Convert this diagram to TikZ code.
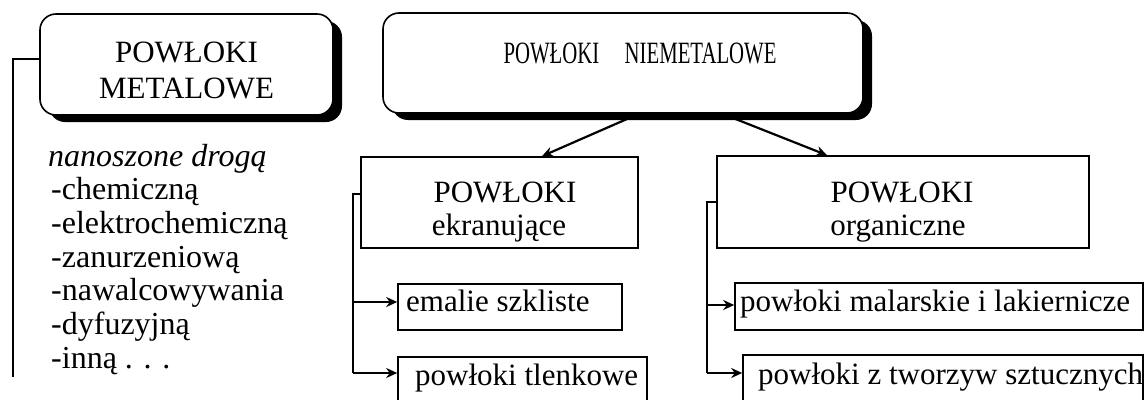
\documentclass[tikz,border=0pt]{standalone}
\usepackage{fontspec}
\setmainfont{Liberation Serif}
\usetikzlibrary{arrows.meta,shadows,calc}
\begin{document}
\begin{tikzpicture}[x=1pt,y=-1pt,
  txt/.style={font=\fontsize{31}{36}\selectfont, inner sep=0pt},
  ltxt/.style={font=\fontsize{32}{36}\selectfont, inner sep=0pt},
  rbox/.style={draw=black, line width=1.6pt, fill=white, rounded corners=16pt, inner sep=0pt,
    drop shadow={shadow xshift=9pt,shadow yshift=-7pt,fill=black,opacity=1}},
  sbox/.style={draw=black, line width=1.6pt, fill=white, inner sep=0pt},
  conn/.style={line width=2.2pt},
  arr/.style={line width=2.2pt,-{Stealth[length=11pt,width=10pt]}},
]
\useasboundingbox (0,0) rectangle (1146,399);
\clip (0,0) rectangle (1146,399);
\fill[white] (0,0) rectangle (1146,399);

% main boxes
\node[rbox, minimum width=293pt, minimum height=101pt] (met) at (186.5,64.5) {};
\node[txt, anchor=base] (metA) at (186.5,62) {POWŁOKI};
\node[txt, anchor=base] (metB) at (186.5,98) {METALOWE};

\node[rbox, minimum width=480pt, minimum height=100pt] (nm) at (623,63) {};
\node[txt, anchor=base] (nmT) at (640,63) {\scalebox{0.67}[1]{POWŁOKI\hspace{38pt}NIEMETALOWE}};

% second level
\node[sbox, minimum width=277pt, minimum height=91pt] (ek) at (499.5,202.5) {};
\node[txt, anchor=base] (ekA) at (505,202.5) {POWŁOKI};
\node[txt, anchor=base] (ekB) at (499,235) {ekranujące};

\node[sbox, minimum width=372pt, minimum height=92pt] (org) at (903,202) {};
\node[txt, anchor=base] (orgA) at (902,202.5) {POWŁOKI};
\node[txt, anchor=base] (orgB) at (898,235) {organiczne};

% leaf boxes
\node[sbox, minimum width=224pt, minimum height=46pt] (em) at (510,307) {};
\node[txt, anchor=base west] (emT) at (406,311) {emalie szkliste};
\node[sbox, minimum width=249pt, minimum height=60pt] (tl) at (522.5,387) {};
\node[txt, anchor=base west] (tlT) at (415,385) {powłoki tlenkowe};
\node[sbox, minimum width=408pt, minimum height=47pt] (ma) at (939,306.5) {};
\node[txt, anchor=base west] (maT) at (740,311) {powłoki malarskie i lakiernicze};
\node[sbox, minimum width=400pt, minimum height=60pt] (tw) at (943,385) {};
\node[txt, anchor=base west] (twT) at (758,384) {powłoki z tworzyw sztucznych};

% list
\node[ltxt, anchor=base west] (l0) at (48,166) {\itshape nanoszone drogą};
\node[ltxt, anchor=base west] (l1) at (51,199.7) {-chemiczną};
\node[ltxt, anchor=base west] (l2) at (51,233.4) {-elektrochemiczną};
\node[ltxt, anchor=base west] (l3) at (51,267.1) {-zanurzeniową};
\node[ltxt, anchor=base west] (l4) at (51,300.8) {-nawalcowywania};
\node[ltxt, anchor=base west] (l5) at (51,334.5) {-dyfuzyjną};
\node[ltxt, anchor=base west] (l6) at (51,368.2) {-inną . . .};

% connectors
\coordinate (m0) at (13,59);
\coordinate (mend) at (13,377);
\draw[conn] (met.west |- m0) -- (m0) -- (mend);

\coordinate (n1) at (627,119);
\coordinate (n2) at (733,118);
\coordinate (k1) at (542,0);
\coordinate (k2) at (827,0);
\draw[arr] (n1) -- (ek.north -| k1);
\draw[arr] (n2) -- (org.north -| k2);

\coordinate (e0) at (353,194);
\coordinate (e1) at (353,302);
\coordinate (e2) at (353,373);
\draw[conn] (ek.west |- e0) -- (e0) -- (e2);
\draw[arr] (e1) -- (em.west |- e1);
\draw[arr] (e2) -- (tl.west |- e2);

\coordinate (o0) at (707,202);
\coordinate (o1) at (707,305);
\coordinate (o2) at (707,373);
\draw[conn] (org.west |- o0) -- (o0) -- (o2);
\draw[arr] (o1) -- (ma.west |- o1);
\draw[arr] (o2) -- (tw.west |- o2);
\end{tikzpicture}
\end{document}
